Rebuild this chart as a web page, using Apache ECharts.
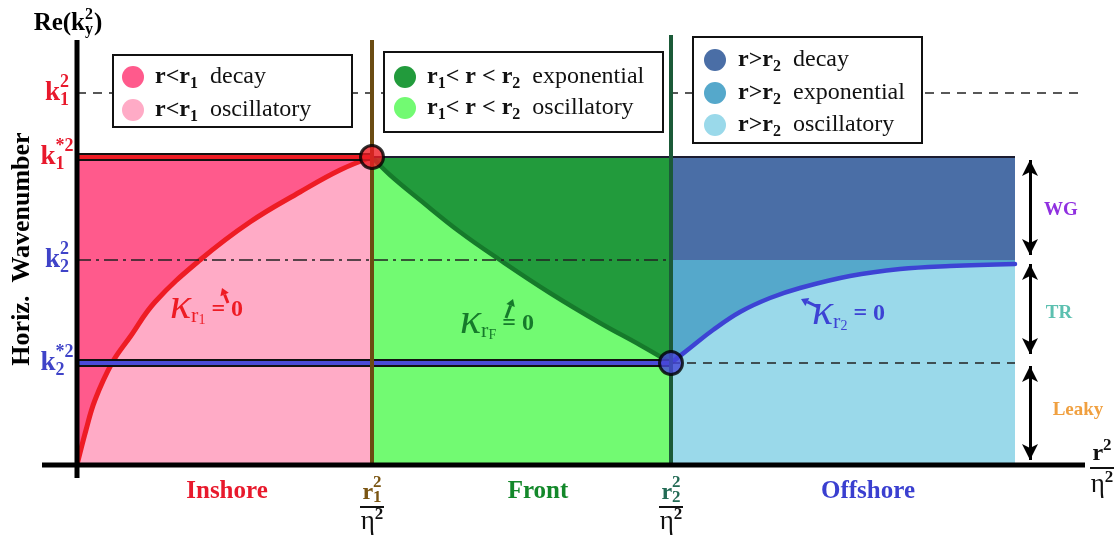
<!DOCTYPE html>
<html><head><meta charset="utf-8">
<script src="https://cdn.jsdelivr.net/npm/echarts@6/dist/echarts.min.js"></script>
<style>html,body{margin:0;padding:0;background:#fff}#c{width:1120px;height:537px}</style>
</head><body><div id="c"></div>
<script>
// ================= DATA =================
// horizontal levels: k1², k1*², k2², k2*²
const levelValues = [3.72, 3.08, 2.05, 1.02];
// x boundaries: origin, r1²/η², r2²/η², right end of the shaded domain
const boundaryX = [0, 2.95, 5.94, 9.38];
// dispersion curves [x, y]
const redCurve = [[0,0],[0.09,0.35],[0.18,0.65],[0.35,1.02],[0.53,1.28],[0.78,1.63],[1.23,2.05],[1.73,2.43],[2.23,2.73],[2.63,2.95],[2.95,3.08]];
const greenCurve = [[2.95,3.08],[3.13,2.90],[3.43,2.65],[3.83,2.33],[4.23,2.05],[4.73,1.72],[5.23,1.42],[5.63,1.20],[5.94,1.02]];
const blueCurve = [[5.94,1.02],[6.13,1.17],[6.36,1.35],[6.63,1.53],[6.93,1.67],[7.23,1.77],[7.73,1.89],[8.23,1.96],[8.73,1.99],[9.38,2.01]];
const regionNames = ['Inshore', 'Front', 'Offshore'];
const bandNames = ['WG', 'TR', 'Leaky'];
const legendLabels = [
  ['decay', 'oscillatory'],
  ['exponential', 'oscillatory'],
  ['decay', 'exponential', 'oscillatory']
];

// ================= CHART =================
const SERIF = '"Liberation Serif", "DejaVu Serif", serif';
const [K1SQ, K1S, K2SQ, K2S] = levelValues;
const [X0, XR1, XR2, XE] = boundaryX;
const XMIN = -0.35, XMAX = 10.08, YMIN = -0.13, YMAX = 4.25;

const C = {
  pinkDark:'#ff5a8c', pinkLight:'#ffabc6', red:'#ee1c24',
  greenDark:'#229b3c', greenLight:'#72fa72', greenLine:'#167a2b',
  blueDark:'#4a6ea6', blueMid:'#55a8cb', blueLight:'#9ad9ea', blueLine:'#3d43d4',
  brown:'#6b4c12', vgreen:'#1b5a38', tickRed:'#e8192c', tickBlue:'#3f43c8'
};

const regionRects = [
  [X0, XR1, 0, K1S, 0],
  [XR1, XR2, 0, K1S, 1],
  [XR2, XE, K2SQ, K1S, 2],
  [XR2, XE, 0, K2SQ, 3]
];
const rectColors = [C.pinkDark, C.greenDark, C.blueDark, C.blueMid];

function seg(pts, color, width, type, z) {
  return {type:'line', data:pts, symbol:'none', silent:true, clip:false, z:z, animation:false,
    lineStyle:{color:color, width:width, type:type||'solid', cap:'butt'}};
}
function curve(pts, area, line, width) {
  return {type:'line', data:pts, symbol:'none', silent:true, clip:false, z:3, smooth:0.4,
    animation:false, areaStyle:{color:area, opacity:1}, lineStyle:{color:line, width:width, cap:'round'}};
}

const chart = echarts.init(document.getElementById('c'));
const option = {
  animation:false,
  grid:{left:42, right:35, top:40, bottom:59},
  xAxis:{type:'value', min:XMIN, max:XMAX, show:false},
  yAxis:{type:'value', min:YMIN, max:YMAX, show:false},
  series:[
    {type:'custom', z:1, silent:true, clip:false, data:regionRects, encode:{x:[0,1], y:[2,3]},
      renderItem:function(params, api){
        const a = api.coord([api.value(0), api.value(3)]);
        const b = api.coord([api.value(1), api.value(2)]);
        return {type:'rect', shape:{x:a[0], y:a[1], width:b[0]-a[0], height:b[1]-a[1]},
          style:{fill:rectColors[api.value(4)]}};
      }},
    curve(redCurve, C.pinkLight, C.red, 5),
    curve(greenCurve, C.greenLight, C.greenLine, 4.5),
    curve(blueCurve, C.blueLight, C.blueLine, 4.5),
    seg([[X0,K1SQ],[XMAX,K1SQ]], '#222', 1.6, [9,7], 4),
    seg([[X0,K2SQ],[XR2,K2SQ]], '#222', 1.6, [14,5,3,5], 4),
    seg([[XR2,K2S],[XE,K2S]], '#222', 1.6, [9,7], 4),
    seg([[XR1,K1S],[XE,K1S]], '#1c1c30', 2, 'solid', 4),
    seg([[X0,K1S],[XR1,K1S]], '#111', 8, 'solid', 5),
    seg([[X0,K1S],[XR1,K1S]], C.red, 4, 'solid', 5),
    seg([[X0,K2S],[XR2,K2S]], '#111', 8, 'solid', 5),
    seg([[X0,K2S],[XR2,K2S]], '#4a4ad8', 4, 'solid', 5),
    seg([[XR1,0],[XR1,YMAX]], C.brown, 4, 'solid', 6),
    seg([[XR2,0],[XR2,YMAX+0.05]], C.vgreen, 4, 'solid', 6),
    Object.assign(seg([[XMIN,0],[XMAX,0]], '#000', 5, 'solid', 7), {
      markLine:{silent:true, symbol:['arrow','arrow'], symbolSize:[12,16], animation:false,
        label:{show:false}, lineStyle:{color:'#000', width:3, type:'solid'},
        data:[
          [{coord:[9.53, 3.05]}, {coord:[9.53, 2.10]}],
          [{coord:[9.53, 2.01]}, {coord:[9.53, 1.11]}],
          [{coord:[9.53, 0.99]}, {coord:[9.53, 0.05]}]
        ]}
    }),
    seg([[0,YMIN],[0,YMAX]], '#000', 5, 'solid', 7),
    {type:'scatter', z:8, silent:true, symbolSize:23, animation:false,
      data:[{value:[XR1,K1S], itemStyle:{color:C.red}}, {value:[XR2,K2S], itemStyle:{color:'#4646d8'}}],
      itemStyle:{borderColor:'#000', borderWidth:3}}
  ]
};
chart.setOption(option);

// ================= TEXT / ANNOTATIONS =================
const px = (x, y) => chart.convertToPixel({xAxisIndex:0, yAxisIndex:0}, [x, y]);
const mctx = document.createElement('canvas').getContext('2d');
function fnt(p){ return (p.italic?'italic ':'') + (p.bold?'bold ':'') + p.size + 'px ' + (p.family||SERIF); }
function measure(t, f){ mctx.font = f; return mctx.measureText(t).width; }
function txt(t, x, y, font, fill, align, extra){
  return Object.assign({type:'text', silent:true, z:100, style:{text:t, x:x, y:y, font:font, fill:fill,
    align:align||'left', verticalAlign:'middle', textAlign:align||'left', textVerticalAlign:'middle'}}, extra||{});
}
function mathText(x, y, pieces, align, color){
  let w = 0; const placed = [];
  pieces.forEach(p => {
    const f = fnt(p); let ww;
    if (p.sup !== undefined || p.sub !== undefined) {
      ww = Math.max(p.sup ? measure(p.sup, f) : 0, p.sub ? measure(p.sub, f) : 0);
    } else ww = measure(p.t, f);
    placed.push({p:p, f:f, dx:w});
    w += ww + (p.gap || 0);
  });
  const x0 = align === 'center' ? x - w/2 : (align === 'right' ? x - w : x);
  const els = [];
  placed.forEach(o => {
    const fill = o.p.color || color || '#000';
    if (o.p.sup !== undefined || o.p.sub !== undefined) {
      if (o.p.sup) els.push(txt(o.p.sup, x0+o.dx, y+o.p.supDy, o.f, fill));
      if (o.p.sub) els.push(txt(o.p.sub, x0+o.dx, y+o.p.subDy, o.f, fill));
    } else els.push(txt(o.p.t, x0+o.dx, y+(o.p.dy||0), o.f, fill));
  });
  return els;
}
function arrowMark(tail, tip, color){
  const dx = tip[0]-tail[0], dy = tip[1]-tail[1], L = Math.hypot(dx, dy);
  const ux = dx/L, uy = dy/L, nx = -uy, ny = ux, h = 7, hw = 4.5;
  const base = [tip[0]-ux*h, tip[1]-uy*h];
  return [
    {type:'line', silent:true, z:100, shape:{x1:tail[0], y1:tail[1], x2:base[0], y2:base[1]}, style:{stroke:color, lineWidth:3}},
    {type:'polygon', silent:true, z:100, shape:{points:[tip, [base[0]+nx*hw, base[1]+ny*hw], [base[0]-nx*hw, base[1]-ny*hw]]}, style:{fill:color}}
  ];
}

let g = [];
// y-axis title
g = g.concat(mathText(68, 24, [
  {t:'Re(k', bold:true, size:25},
  {sup:'2', sub:'y', bold:true, size:16, supDy:-9, subDy:6, gap:1},
  {t:')', bold:true, size:25}], 'center', '#000'));
// vertical axis name
g.push({type:'text', silent:true, z:100, x:22, y:249, rotation:Math.PI/2,
  style:{text:'Horiz.  Wavenumber', x:0, y:0, font:'bold 26px ' + SERIF, fill:'#000',
    align:'center', verticalAlign:'middle', textAlign:'center', textVerticalAlign:'middle'}});
// tick labels
const tickSpecs = [
  {sup:'2', sub:'1', color:C.tickRed},
  {sup:'*2', sub:'1', color:C.tickRed},
  {sup:'2', sub:'2', color:C.tickBlue},
  {sup:'*2', sub:'2', color:C.tickBlue}
];
levelValues.forEach((v, i) => {
  const p = px(-0.2, v); const s = tickSpecs[i];
  g = g.concat(mathText(p[0], p[1], [
    {t:'k', bold:true, size:27},
    {sup:s.sup, sub:s.sub, bold:true, size:18, supDy:-11, subDy:7}], 'center', s.color));
});
// legend boxes
function legendBox(x, y, w, h, rows, circleX, textX){
  g.push({type:'rect', silent:true, z:90, shape:{x:x, y:y, width:w, height:h}, style:{fill:'#fff', stroke:'#111', lineWidth:2}});
  rows.forEach(r => {
    g.push({type:'circle', silent:true, z:100, shape:{cx:circleX, cy:r.y, r:11}, style:{fill:r.color}});
    g = g.concat(mathText(textX, r.y, r.pieces, 'left', '#111'));
  });
}
const B = (t) => ({t:t, bold:true, size:24});
const S = (t) => ({t:t, bold:true, size:16, dy:7});
const R = (t) => ({t:'  ' + t, size:24});
legendBox(113, 55, 239, 72, [
  {y:77, color:C.pinkDark, pieces:[B('r<r'), S('1'), R(legendLabels[0][0])]},
  {y:110, color:C.pinkLight, pieces:[B('r<r'), S('1'), R(legendLabels[0][1])]}], 133, 155);
legendBox(384, 52, 279, 80, [
  {y:77, color:C.greenDark, pieces:[B('r'), S('1'), B('< r < r'), S('2'), R(legendLabels[1][0])]},
  {y:108, color:C.greenLight, pieces:[B('r'), S('1'), B('< r < r'), S('2'), R(legendLabels[1][1])]}], 405, 427);
legendBox(693, 37, 229, 106, [
  {y:60, color:C.blueDark, pieces:[B('r>r'), S('2'), R(legendLabels[2][0])]},
  {y:93, color:C.blueMid, pieces:[B('r>r'), S('2'), R(legendLabels[2][1])]},
  {y:125, color:C.blueLight, pieces:[B('r>r'), S('2'), R(legendLabels[2][2])]}], 715, 738);

// region names under the axis
const regionColors = ['#e8192c', '#13882a', '#3a3fd0'];
const regionCx = [227, 538, 868];
regionNames.forEach((n, i) => g.push(txt(n, regionCx[i], 492, 'bold 25px ' + SERIF, regionColors[i], 'center')));

// fractions r1²/η², r2²/η², r²/η²
function fraction(cx, top, numPieces, numColor, barY, denY){
  g = g.concat(mathText(cx, top, numPieces, 'center', numColor));
  g.push({type:'line', silent:true, z:100, shape:{x1:cx-12, y1:barY, x2:cx+12, y2:barY}, style:{stroke:'#111', lineWidth:2}});
  g = g.concat(mathText(cx, denY, [{t:'η', size:27}, {sup:'2', size:17, supDy:-7, bold:true}], 'center', '#111'));
}
const fr1 = px(XR1, 0), fr2 = px(XR2, 0);
fraction(fr1[0], 493, [{t:'r', bold:true, size:24}, {sup:'2', sub:'1', bold:true, size:17, supDy:-10, subDy:5}], '#7a5512', 507, 522);
fraction(fr2[0], 493, [{t:'r', bold:true, size:24}, {sup:'2', sub:'2', bold:true, size:17, supDy:-10, subDy:5}], '#236b55', 507, 522);
fraction(1102, 454, [{t:'r', bold:true, size:24}, {sup:'2', bold:true, size:17, supDy:-8}], '#111', 468, 485);

// band labels
const bandColors = ['#9030e0', '#5cc0b0', '#f0a040'];
const bandPos = [[1061, 210], [1059, 313], [1078, 410]];
bandNames.forEach((n, i) => g.push(txt(n, bandPos[i][0], bandPos[i][1], 'bold 19px ' + SERIF, bandColors[i], 'center')));

// kappa annotations
g = g.concat(mathText(170, 306, [
  {t:'κ', italic:true, size:44, dy:0},
  {t:'r', size:22, dy:10}, {t:'1', size:14, dy:14, gap:6},
  {t:'= 0', bold:true, size:24, dy:4}], 'left', C.red));
g = g.concat(arrowMark([228, 303], [222, 288], C.red));
g = g.concat(mathText(460, 321, [
  {t:'κ', italic:true, size:44},
  {t:'r', size:22, dy:10}, {t:'F', size:14, dy:14, gap:6},
  {t:'= 0', bold:true, size:24, dy:3}], 'left', C.greenLine));
g = g.concat(arrowMark([506, 318], [513, 299], C.greenLine));
g = g.concat(mathText(812, 312, [
  {t:'κ', italic:true, size:44},
  {t:'r', size:22, dy:10}, {t:'2', size:14, dy:14, gap:6},
  {t:'= 0', bold:true, size:24, dy:2}], 'left', C.blueLine));
g = g.concat(arrowMark([818, 307], [801, 299], C.blueLine));

chart.setOption({graphic:{elements:g}});
</script></body></html>
